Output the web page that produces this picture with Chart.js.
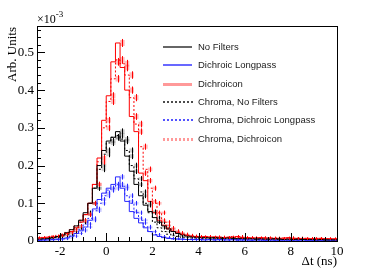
<!DOCTYPE html>
<html lang="en">
<head>
  <meta charset="UTF-8" />
  <title>Delta t distributions</title>
  <script src="https://cdn.jsdelivr.net/npm/chart.js"></script>
  <style>
    body { margin: 0; padding: 0; background: #fff; }
    #wrap { position: relative; width: 374px; height: 268px; }
  </style>
</head>
<body>
  <div id="wrap"><canvas id="dtChart"></canvas></div>

  <script>
    // histogram bins: 0.2 ns wide, starting at -3 ns (65 bins up to 10 ns)
    const binStart = -3;
    const binWidth = 0.2;

    const labels = ["No Filters", "Dichroic Longpass", "Dichroicon",
                    "Chroma, No Filters", "Chroma, Dichroic Longpass", "Chroma, Dichroicon"];

    // values in units of 1e-3
    const noFilters = [0.004,0.005,0.006,0.007,0.009,0.012,0.016,0.022,0.030,0.040,0.055,0.075,0.100,0.140,0.200,0.240,0.265,0.275,0.290,0.265,
      0.225,0.185,0.150,0.120,0.095,0.078,0.062,0.050,0.040,0.032,0.025,0.020,0.016,0.013,0.011,
      0.010,0.009,0.009,0.008,0.009,0.008,0.007,0.008,0.007,0.006,0.007,0.006,0.006,0.005,0.006,
      0.005,0.005,0.006,0.005,0.004,0.005,0.004,0.005,0.004,0.004,0.004,0.003,0.004,0.003,0.003];
    const dichroicLongpass = [0.002,0.002,0.003,0.003,0.004,0.005,0.006,0.008,0.013,0.020,0.027,0.037,0.055,0.085,0.110,0.127,0.140,0.150,0.170,0.140,
      0.105,0.078,0.060,0.048,0.035,0.025,0.016,0.012,0.009,0.007,0.006,0.005,0.005,0.004,0.004,
      0.004,0.004,0.003,0.004,0.003,0.004,0.003,0.003,0.004,0.003,0.003,0.003,0.002,0.003,0.003,
      0.002,0.003,0.002,0.002,0.003,0.002,0.002,0.002,0.003,0.002,0.002,0.002,0.002,0.002,0.002];
    const dichroicon = [0.008,0.008,0.009,0.010,0.011,0.012,0.015,0.020,0.025,0.035,0.050,0.070,0.100,0.150,0.220,0.320,0.385,0.475,0.525,0.460,
      0.400,0.330,0.290,0.180,0.160,0.105,0.075,0.055,0.042,0.032,0.026,0.022,0.018,0.015,0.013,
      0.012,0.011,0.012,0.010,0.011,0.010,0.009,0.010,0.009,0.012,0.009,0.009,0.008,0.008,0.009,
      0.008,0.008,0.007,0.007,0.008,0.009,0.007,0.007,0.006,0.007,0.006,0.007,0.007,0.006,0.006];
    const chromaNoFilters = [0.004,0.005,0.005,0.006,0.008,0.010,0.013,0.018,0.025,0.035,0.050,0.070,0.100,0.140,0.190,0.230,0.260,0.275,0.280,0.270,
      0.240,0.200,0.165,0.130,0.100,0.075,0.050,0.035,0.025,0.018,0.014,0.012,0.010,0.009,0.008,
      0.008,0.007,0.008,0.007,0.006,0.007,0.006,0.006,0.005,0.006,0.005,0.005,0.006,0.005,0.004,
      0.005,0.004,0.005,0.004,0.004,0.004,0.003,0.004,0.004,0.003,0.003,0.004,0.003,0.003,0.003];
    const chromaDichroicLongpass = [0.002,0.002,0.003,0.003,0.004,0.004,0.006,0.009,0.013,0.020,0.030,0.045,0.060,0.080,0.100,0.120,0.135,0.140,0.150,0.145,
      0.120,0.100,0.075,0.055,0.038,0.025,0.017,0.012,0.009,0.007,0.006,0.005,0.005,0.004,0.004,
      0.004,0.003,0.004,0.003,0.003,0.004,0.003,0.003,0.003,0.002,0.003,0.003,0.002,0.003,0.002,
      0.002,0.003,0.002,0.002,0.002,0.002,0.003,0.002,0.002,0.002,0.002,0.002,0.001,0.002,0.002];
    const chromaDichroicon = [0.008,0.009,0.010,0.011,0.013,0.015,0.018,0.023,0.030,0.040,0.055,0.070,0.100,0.150,0.210,0.300,0.370,0.430,0.480,0.470,
      0.440,0.380,0.310,0.250,0.190,0.140,0.100,0.075,0.050,0.035,0.026,0.020,0.017,0.014,0.012,
      0.011,0.010,0.011,0.010,0.009,0.010,0.009,0.010,0.012,0.009,0.008,0.009,0.008,0.008,0.007,
      0.008,0.007,0.008,0.007,0.007,0.006,0.007,0.008,0.006,0.007,0.006,0.006,0.007,0.006,0.005];

    const xTicks = [-2, 0, 2, 4, 6, 8, 10];
    const yTicks = [0, 0.1, 0.2, 0.3, 0.4, 0.5];

    const series = [noFilters, dichroicLongpass, dichroicon, chromaNoFilters, chromaDichroicLongpass, chromaDichroicon];
    const colors = ["#000000", "#2828ff", "#ff0000", "#000000", "#2828ff", "#ff0000"];
    const legendColors = ["rgba(0,0,0,0.6)", "rgba(40,40,255,0.7)", "rgba(255,0,0,0.4)",
                          "rgba(0,0,0,0.7)", "rgba(40,40,255,0.8)", "rgba(255,0,0,0.4)"];
    const bands = ["rgba(0,0,0,0.22)", "rgba(0,0,255,0.22)", "rgba(255,0,0,0.28)",
                   "rgba(0,0,0,0.18)", "rgba(0,0,255,0.18)", "rgba(255,0,0,0.25)"];
    const dashed = [false, false, false, true, true, true];
    const errScale = 0.011;   // poisson-like error, err = errScale * sqrt(value)
    const serif = "'Liberation Serif', 'Times New Roman', serif";

    function toPoints(vals) {
      const pts = vals.map((v, i) => ({ x: binStart + i * binWidth, y: v }));
      pts.push({ x: binStart + vals.length * binWidth, y: vals[vals.length - 1] });
      return pts;
    }

    const datasets = series.map((vals, k) => ({
      label: labels[k],
      data: toPoints(vals),
      stepped: 'after',
      borderColor: colors[k],
      borderWidth: 1,
      borderDash: dashed[k] ? [2, 2] : [],
      pointRadius: 0,
      fill: false
    }));

    const rootStyle = {
      id: 'rootStyle',
      beforeDatasetsDraw(chart) {
        const { ctx, scales: { x, y } } = chart;
        ctx.save();
        series.forEach((vals, k) => {
          ctx.fillStyle = bands[k];
          vals.forEach((v, i) => {
            const e = errScale * Math.sqrt(v);
            const x0 = x.getPixelForValue(binStart + i * binWidth);
            const x1 = x.getPixelForValue(binStart + (i + 1) * binWidth);
            const yt = y.getPixelForValue(v + e), yb = y.getPixelForValue(v - e);
            ctx.fillRect(x0, yt, x1 - x0, Math.max(yb - yt, 1));
          });
        });
        ctx.restore();
      },
      afterDatasetsDraw(chart) {
        const { ctx, chartArea: a, scales: { x, y } } = chart;
        ctx.save();
        // error bars
        series.forEach((vals, k) => {
          ctx.strokeStyle = colors[k];
          ctx.lineWidth = 1;
          ctx.beginPath();
          vals.forEach((v, i) => {
            const e = errScale * Math.sqrt(v);
            const xc = Math.round(x.getPixelForValue(binStart + (i + 0.5) * binWidth)) + 0.5;
            ctx.moveTo(xc, y.getPixelForValue(v + e) - 1);
            ctx.lineTo(xc, y.getPixelForValue(v - e) + 1);
          });
          ctx.stroke();
        });

        // frame
        ctx.strokeStyle = '#000';
        ctx.lineWidth = 1;
        ctx.strokeRect(Math.round(a.left) + 0.5, Math.round(a.top) + 0.5,
                       Math.round(a.right - a.left), Math.round(a.bottom - a.top));

        // inner tick marks
        ctx.beginPath();
        for (let v = 0; v <= 0.5601; v += 0.02) {
          const py = Math.round(y.getPixelForValue(v)) + 0.5;
          const major = Math.abs(v * 10 - Math.round(v * 10)) < 1e-6;
          ctx.moveTo(a.left, py);
          ctx.lineTo(a.left + (major ? 8 : 4), py);
        }
        for (let v = -2.5; v <= 9.51; v += 0.5) {
          const px = Math.round(x.getPixelForValue(v)) + 0.5;
          const major = Math.abs(v / 2 - Math.round(v / 2)) < 1e-6;
          ctx.moveTo(px, a.bottom);
          ctx.lineTo(px, a.bottom - (major ? 8 : 4));
        }
        ctx.stroke();

        // axis titles
        ctx.fillStyle = '#000';
        ctx.font = '13px ' + serif;
        ctx.textAlign = 'right';
        ctx.textBaseline = 'middle';
        ctx.fillText('\u0394t (ns)', a.right, 262);
        ctx.save();
        ctx.translate(13, a.top + 1);
        ctx.rotate(-Math.PI / 2);
        ctx.fillText('Arb. Units', 0, 0);
        ctx.restore();
        ctx.textAlign = 'left';
        ctx.textBaseline = 'alphabetic';
        ctx.font = '12px ' + serif;
        ctx.fillText('\u00d710', a.left, 23);
        const w = ctx.measureText('\u00d710').width;
        ctx.font = '9px ' + serif;
        ctx.fillText('-3', a.left + w, 17);

        // legend: short line samples drawn as filled strips
        ctx.font = "9.5px 'Liberation Sans', Arial, sans-serif";
        ctx.textBaseline = 'middle';
        labels.forEach((lab, i) => {
          const ly = Math.round(47 + i * 18.3);
          const red = colors[i] === '#ff0000';
          ctx.fillStyle = legendColors[i];
          const h = red ? 3 : 2;
          const top = ly - 1;
          if (dashed[i]) {
            for (let sx = 163; sx < 192; sx += 4) ctx.fillRect(sx, top, 2, h);
          } else {
            ctx.fillRect(163, top, 29, h);
          }
          ctx.fillStyle = '#222';
          ctx.fillText(lab, 198, ly + 0.5);
        });
        ctx.restore();
      }
    };

    new Chart(document.getElementById('dtChart'), {
      type: 'line',
      data: { datasets },
      options: {
        responsive: true,
        maintainAspectRatio: false,
        animation: false,
        layout: { padding: { top: 26, right: 37, left: 0, bottom: 0 } },
        plugins: { legend: { display: false }, tooltip: { enabled: false } },
        scales: {
          x: {
            type: 'linear',
            min: -3,
            max: 10,
            afterBuildTicks: s => { s.ticks = xTicks.map(v => ({ value: v })); },
            ticks: { font: { family: serif, size: 13 }, color: '#000', padding: 3, maxRotation: 0 },
            grid: { display: false, drawTicks: false },
            border: { display: false },
            afterFit: s => { s.height = 27; }
          },
          y: {
            min: 0,
            max: 0.57,
            afterBuildTicks: s => { s.ticks = yTicks.map(v => ({ value: v })); },
            ticks: {
              font: { family: serif, size: 13 }, color: '#000', padding: 3,
              callback: v => v === 0 ? '0' : v.toFixed(1)
            },
            grid: { display: false, drawTicks: false },
            border: { display: false },
            afterFit: s => { s.width = 37; }
          }
        }
      },
      plugins: [rootStyle]
    });
  </script>
</body>
</html>
